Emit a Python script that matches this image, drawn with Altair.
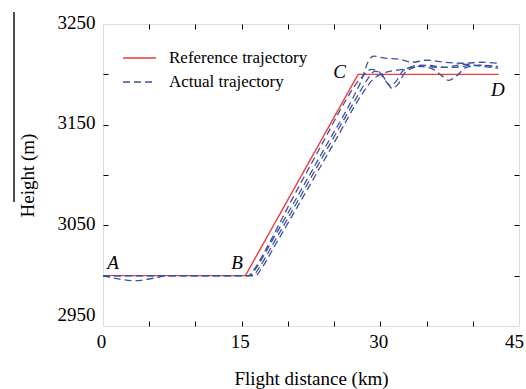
import altair as alt
import pandas as pd

# ---- data ----
ref_x = [0, 15.4, 27.6, 42.8]
ref_y = [3000, 3000, 3200, 3200]

a1_x = [0, 1.5, 3.5, 5.5, 7, 15.7, 16.4, 17.5, 20, 24, 26, 27.5, 28.2, 29.0, 29.8, 30.6, 31.1, 31.7, 32.4, 33.2, 34.5, 36, 38, 40, 42.7]
a1_y = [3000, 2997, 2995, 2997.5, 3000, 3000, 3007, 3024, 3068, 3136, 3170, 3192, 3199, 3205, 3203, 3193, 3189, 3193, 3203, 3207, 3209, 3207, 3207, 3209, 3208]

a2_x = [0, 15.9, 16.6, 18, 20, 24, 27, 28.0, 28.7, 29.3, 30.5, 32, 33.5, 35, 37, 39, 41, 42.7]
a2_y = [3000, 3000, 3008, 3030, 3062, 3127, 3176, 3195, 3213, 3218, 3216, 3215, 3212, 3214, 3212, 3211, 3212, 3211]

a3_x = [0, 16.2, 16.9, 18.3, 20.5, 24.5, 27.5, 28.6, 29.4, 30.0, 30.7, 31.3, 31.9, 32.6, 33.4, 35, 37, 39, 41, 42.7]
a3_y = [3000, 3000, 3008, 3030, 3065, 3130, 3178, 3195, 3203, 3202, 3192, 3186, 3190, 3201, 3206, 3209, 3207, 3210, 3208, 3206]

a4_x = [0, 16.5, 17.2, 18.6, 21, 25, 28, 29.2, 30.0, 31, 32.5, 34, 35.5, 36.6, 37.4, 38.2, 39.3, 41, 42.7]
a4_y = [3000, 3000, 3008, 3030, 3068, 3132, 3180, 3195, 3200, 3203, 3205, 3208, 3206, 3199, 3194, 3198, 3207, 3209, 3207]

lbl_text = ["A", "B", "C", "D"]
lbl_x = [1.1, 14.5, 25.6, 42.7]
lbl_y = [3013, 3013, 3202, 3184]

x_labels = [0, 15, 30, 45]
y_labels = [2950, 3050, 3150, 3250]
x_minor = [5, 10, 15, 20, 25, 30, 35, 40]
y_minor = [3000, 3050, 3100, 3150, 3200]

SERIES = ["Reference trajectory", "Actual trajectory"]
RED = "#ee3b3b"
BLUE = "#3d4fa0"
FONT = "Liberation Serif"

ref_df = pd.DataFrame({"x": ref_x, "y": ref_y, "series": SERIES[0], "run": "ref"})
act_df = pd.concat([
    pd.DataFrame({"x": xs, "y": ys, "series": SERIES[1], "run": f"run{i}"})
    for i, (xs, ys) in enumerate([(a1_x, a1_y), (a2_x, a2_y), (a3_x, a3_y), (a4_x, a4_y)])
])
lbl_df = pd.DataFrame({"x": lbl_x, "y": lbl_y, "t": lbl_text})

xscale = alt.Scale(domain=[0, 45], nice=False, zero=False)
yscale = alt.Scale(domain=[2950, 3250], nice=False, zero=False)

leg = alt.Legend(orient="none", legendX=19, legendY=25, title=None,
                 labelFont=FONT, labelFontSize=17, labelColor="black",
                 symbolType="stroke", symbolSize=1089, symbolStrokeWidth=1.5,
                 labelOffset=12, rowPadding=6, clipHeight=18, padding=0)
color = alt.Color("series:N", scale=alt.Scale(domain=SERIES, range=[RED, BLUE]), legend=leg)
dash = alt.StrokeDash("series:N", scale=alt.Scale(domain=SERIES, range=[[1, 0], [7, 4]]), legend=leg)

x_main = alt.Axis(orient="bottom", values=x_labels, ticks=False, domain=False, grid=False,
                  format="d",
                  labelFont=FONT, labelFontSize=19, labelColor="black", labelPadding=6,
                  labelFlush=False,
                  labelOffset={"condition": {"test": "datum.value === 45", "value": -5}, "value": -2},
                  title="Flight distance (km)", titleFont=FONT, titleFontSize=19,
                  titleFontWeight="normal", titleColor="black", titleY=58,
                  titleBaseline="alphabetic")
y_main = alt.Axis(orient="left", values=y_labels, ticks=False, domain=False, grid=False,
                  format="d",
                  labelFont=FONT, labelFontSize=19, labelColor="black", labelPadding=8,
                  labelOffset={"condition": {"test": "datum.value === 2950", "value": -12}, "value": -2},
                  title="Height (m)", titleFont=FONT, titleFontSize=19,
                  titleFontWeight="normal", titleColor="black", titleX=-70, titleY=151,
                  titleAngle=270, titleBaseline="alphabetic", titleAlign="center")


def tick_axis(orient):
    vals = x_minor if orient in ("bottom", "top") else y_minor
    return alt.Axis(orient=orient, values=vals, offset=-5, tickSize=5, tickWidth=1,
                    tickColor="black", labels=False, domain=False, grid=False, title=None)


ref_line = alt.Chart(ref_df).mark_line(strokeWidth=1.4).encode(
    x=alt.X("x:Q", scale=xscale, axis=x_main),
    y=alt.Y("y:Q", scale=yscale, axis=y_main),
    color=color, strokeDash=dash, detail="run:N",
)

act_lines = alt.Chart(act_df).mark_line(strokeWidth=1.3, interpolate="monotone").encode(
    x=alt.X("x:Q", scale=xscale, axis=tick_axis("bottom")),
    y=alt.Y("y:Q", scale=yscale, axis=tick_axis("left")),
    color=color, strokeDash=dash, detail="run:N",
)

labels = alt.Chart(lbl_df).mark_text(font=FONT, fontSize=19, fontStyle="italic",
                                     color="black", align="center", baseline="middle").encode(
    x=alt.X("x:Q", scale=xscale, axis=tick_axis("top")),
    y=alt.Y("y:Q", scale=yscale, axis=tick_axis("right")),
    text="t:N",
)

artifact = alt.Chart(lbl_df).mark_rule(color="#444", strokeWidth=1).encode(
    x=alt.value(-89), y=alt.value(-12), y2=alt.value(178)
)

chart = alt.layer(ref_line, act_lines, labels, artifact).resolve_axis(
    x="independent", y="independent"
).properties(
    width=416, height=302,
    autosize=alt.AutoSizeParams(type="none"),
    padding={"left": 103, "top": 24, "right": 7, "bottom": 63},
).configure_view(stroke="black", strokeWidth=1).configure(background="white").configure_axis(
    labelFont=FONT, titleFont=FONT, labelColor="black", titleColor="black"
)

chart.save("out.html", embed_options={"renderer": "svg", "actions": False})
